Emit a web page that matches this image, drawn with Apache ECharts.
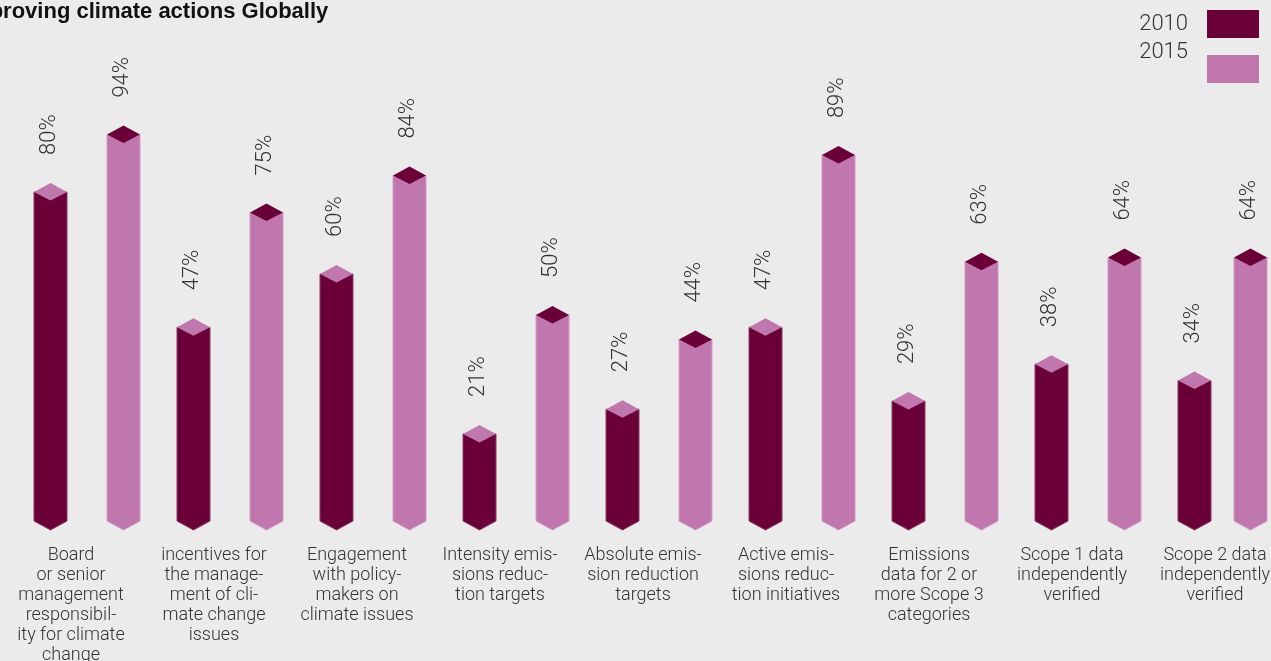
<!DOCTYPE html>
<html>
<head>
<meta charset="utf-8">
<script src="https://cdn.jsdelivr.net/npm/echarts@6/dist/echarts.min.js"></script>
<style>
html,body{margin:0;padding:0;background:#ebebeb;}
#chart{width:1271px;height:661px;}
</style>
</head>
<body>
<div id="chart"></div>
<script>
var titleText = 'Improving climate actions Globally';
var categories = [
  'Board\nor senior\nmanagement\nresponsibil-\nity for climate\nchange',
  'incentives for\nthe manage-\nment of cli-\nmate change\nissues',
  'Engagement\nwith policy-\nmakers on\nclimate issues',
  'Intensity emis-\nsions reduc-\ntion targets',
  'Absolute emis-\nsion reduction\ntargets',
  'Active emis-\nsions reduc-\ntion initiatives',
  'Emissions\ndata for 2 or\nmore Scope 3\ncategories',
  'Scope 1 data\nindependently\nverified',
  'Scope 2 data\nindependently\nverified'
];
var seriesNames = ['2010', '2015'];
var values2010 = [80, 47, 60, 21, 27, 47, 29, 38, 34];
var values2015 = [94, 75, 84, 50, 44, 89, 63, 64, 64];

var DARK = '#6b0038';
var PINK = '#c077ad';
var HALF = 16.5;
var FONT = 'Roboto, "Liberation Sans", sans-serif';

function makeRender(offset, bodyColor, topColor, edgeColor) {
  return function (params, api) {
    var idx = api.value(0);
    var v = api.value(1);
    var p = api.coord([idx, v]);
    var base = api.coord([idx, 0]);
    var cx = p[0] + offset;
    var maxCx = api.getWidth() - 4 - HALF;
    if (cx > maxCx) cx = maxCx;
    var y = p[1];
    var z = base[1];
    return {
      type: 'group',
      children: [
        {
          type: 'polygon',
          shape: { points: [[cx - HALF, y], [cx + HALF, y], [cx + HALF, z + 1], [cx, z + 10], [cx - HALF, z + 1]] },
          style: { fill: bodyColor, stroke: edgeColor, lineWidth: 1 }
        },
        {
          type: 'polygon',
          shape: { points: [[cx, y - 9], [cx + HALF, y], [cx, y + 8.5], [cx - HALF, y]] },
          style: { fill: topColor }
        },
        {
          type: 'text',
          x: cx - 1,
          y: y - 37,
          rotation: Math.PI / 2,
          style: {
            text: v + '%',
            fontSize: 22,
            fontFamily: FONT,
            fontWeight: 300,
            fill: '#333',
            align: 'left',
            verticalAlign: 'middle'
          }
        }
      ]
    };
  };
}

var chart = echarts.init(document.getElementById('chart'));
chart.setOption({
  backgroundColor: '#ebebeb',
  animation: false,
  title: {
    text: titleText,
    left: -41,
    top: -4,
    textStyle: { fontFamily: '"Liberation Sans", Arial, sans-serif', fontWeight: 'bold', fontSize: 22, color: '#111' }
  },
  legend: {
    orient: 'vertical',
    right: 12,
    top: 10,
    padding: 0,
    itemWidth: 52,
    itemHeight: 28,
    itemGap: 3,
    align: 'right',
    icon: 'rect',
    formatter: function (name) {
      return name === seriesNames[1] ? '{up|' + name + '}' : '{n|' + name + '}';
    },
    textStyle: {
      fontFamily: FONT, fontWeight: 300, fontSize: 22, color: '#333',
      rich: {
        n: { fontFamily: FONT, fontWeight: 300, fontSize: 22, color: '#333', padding: [0, 14, 0, 0] },
        up: { fontFamily: FONT, fontWeight: 300, fontSize: 22, color: '#333', padding: [0, 14, 34, 0] }
      }
    },
    data: seriesNames
  },
  grid: { left: 87, right: 40, top: 110, bottom: 141, outerBoundsMode: 'none', containLabel: false },
  xAxis: {
    type: 'category',
    data: categories,
    boundaryGap: false,
    axisLine: { show: false },
    axisTick: { show: false },
    axisLabel: {
      interval: 0,
      margin: 25,
      fontFamily: FONT,
      fontWeight: 300,
      fontSize: 18,
      lineHeight: 20,
      color: '#333',
      padding: [0, 32, 0, 0]
    }
  },
  yAxis: { type: 'value', min: 0, max: 100, show: false },
  series: [
    {
      name: seriesNames[0],
      type: 'custom',
      itemStyle: { color: DARK },
      renderItem: makeRender(-36.5, DARK, PINK, '#8a3a66'),
      data: values2010.map(function (v, i) { return [i, v]; }),
      clip: false
    },
    {
      name: seriesNames[1],
      type: 'custom',
      itemStyle: { color: PINK },
      renderItem: makeRender(36.5, PINK, DARK, '#d29bc3'),
      data: values2015.map(function (v, i) { return [i, v]; }),
      clip: false
    }
  ]
});
</script>
</body>
</html>
